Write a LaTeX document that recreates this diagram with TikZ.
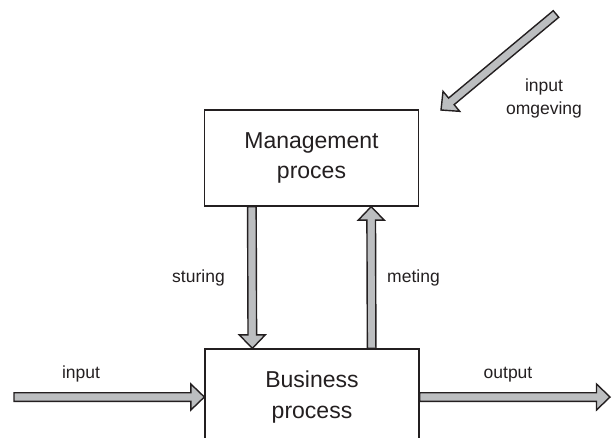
\documentclass[tikz,border=0pt]{standalone}
\usepackage{fontspec}
\setmainfont{Liberation Sans}
\usepackage{xcolor}
\usepackage{tikz}
\usetikzlibrary{calc}
\definecolor{bpink}{HTML}{231F20}
\definecolor{bpgrey}{HTML}{BCBEC0}
\newcommand{\headlen}{13.5pt}
\newcommand{\headhw}{13pt}
\newcommand{\shafthw}{4.3pt}
% block arrow from #1 to #2
\newcommand{\blockarrow}[2]{%
  \path (#1) coordinate (ba s) (#2) coordinate (ba e);
  \path ($(ba e)!\headlen!(ba s)$) coordinate (ba h);
  \draw[blockar] ($(ba s)!\shafthw!90:(ba e)$) -- ($(ba h)!\shafthw!-90:(ba s)$)
    -- ($(ba h)!\headhw!-90:(ba s)$) -- (ba e) -- ($(ba h)!\headhw!90:(ba s)$)
    -- ($(ba h)!\shafthw!90:(ba s)$) -- ($(ba s)!\shafthw!-90:(ba e)$) -- cycle;}

\begin{document}
\begin{tikzpicture}[x=1pt,y=-1pt,
  every node/.style={text=bpink},
  proc/.style={draw=bpink,line width=1.3pt,fill=white,minimum width=214pt,minimum height=96pt,
    align=center,font=\fontsize{23}{30.5}\selectfont},
  lbl/.style={font=\fontsize{17.5}{23}\selectfont,align=center},
  blockar/.style={draw=bpink,fill=bpgrey,line width=1.4pt,line join=miter}]
  \useasboundingbox (0,0) rectangle (615,437);
  \clip (0,0) rectangle (615,437);
  % processes
  \node[proc] (mgmt) at (311.5,158) {Management\\proces};
  \node[proc] (bus) at (312,397) {Business\\process};
  % free ends
  \coordinate (inL) at (14,397);
  \coordinate (outR) at (610,397);
  \coordinate (envS) at (556,14);
  \coordinate (envT) at (441,110);
  % arrows
  \blockarrow{[xshift=48pt]mgmt.south west}{[xshift=48pt]bus.north west}
  \blockarrow{[xshift=-48pt]bus.north east}{[xshift=-48pt]mgmt.south east}
  \blockarrow{inL}{bus.west}
  \blockarrow{bus.east}{outR}
  \blockarrow{envS}{envT}
  % labels
  \node[lbl,anchor=base] (stur) at (198.5,282) {sturing};
  \node[lbl,anchor=base] (met) at (413.5,282) {meting};
  \node[lbl,anchor=base] (inp) at (81,378) {input};
  \node[lbl,anchor=base] (outp) at (508,378) {output};
  \node[lbl] (env) at (544,98.5) {input\\omgeving};
\end{tikzpicture}
\end{document}
